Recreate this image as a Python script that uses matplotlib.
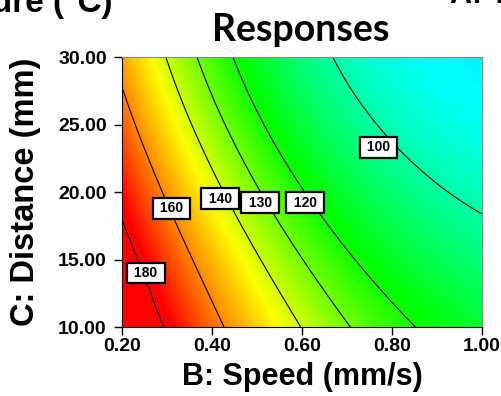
import matplotlib
matplotlib.use("Agg")
import matplotlib.pyplot as plt
import numpy as np
from matplotlib.colors import LinearSegmentedColormap
from matplotlib.ticker import FormatStrFormatter

# B: Speed (mm/s) and C: Distance (mm) grid positions
speed = [0.2, 0.3, 0.4, 0.5, 0.6, 0.7, 0.8, 0.9, 1.0]
distance = [10, 15, 20, 25, 30]

# Response, one row per distance
resp_10 = [195.8, 179.4, 163.9, 150.9, 139.1, 129.9, 123.5, 117.7, 112.5]
resp_15 = [185.3, 169.6, 154.8, 141.0, 129.7, 121.5, 115.1, 109.6, 105.0]
resp_20 = [175.0, 158.4, 142.8, 130.0, 119.3, 112.8, 106.2, 99.8, 98.2]
resp_25 = [168.0, 147.1, 133.2, 122.4, 113.0, 104.0, 97.0, 94.5, 92.0]
resp_30 = [154.9, 139.9, 126.1, 114.6, 104.5, 97.0, 94.0, 91.0, 88.0]

levels = [100, 120, 130, 140, 160, 180]
label_pos = [(0.770, 23.3), (0.607, 19.2), (0.507, 19.2), (0.418, 19.5),
             (0.310, 18.8), (0.253, 14.0)]

plt.rcParams['font.family'] = ['Liberation Sans', 'DejaVu Sans']

X, Y = np.meshgrid(speed, distance)
Z = np.array([resp_10, resp_15, resp_20, resp_25, resp_30])


def terms(x, y):
    # cubic response surface terms, distance scaled to 0..1
    v = (y - 10) / 20.0
    return np.stack([np.ones_like(x), x, v, x * x, x * v, v * v,
                     x ** 3, x * x * v, x * v * v, v ** 3], axis=-1)


# smooth surface through the read points (least squares)
coef, *_ = np.linalg.lstsq(terms(X.ravel(), Y.ravel()), Z.ravel(), rcond=None)
xs = np.linspace(speed[0], speed[-1], 241)
ys = np.linspace(distance[0], distance[-1], 241)
XF, YF = np.meshgrid(xs, ys)
ZF = terms(XF, YF) @ coef

# Design-Expert style map: blue - cyan - green - yellow - red
vmin, vmax = 60, 177
nodes = [60, 90, 118, 145, 177]
node_colors = ['#0000ff', '#00ffff', '#00ff00', '#ffff00', '#ff0000']
cmap = LinearSegmentedColormap.from_list(
    'de', [((v - vmin) / (vmax - vmin), c) for v, c in zip(nodes, node_colors)])

fig = plt.figure(figsize=(5.01, 3.96), dpi=100)
ax = fig.add_axes([0.2435, 0.1742, 0.7186, 0.6818])

ax.pcolormesh(XF, YF, ZF, shading='gouraud', cmap=cmap, vmin=vmin, vmax=vmax)
cs = ax.contour(XF, YF, ZF, levels=levels, colors='black', linewidths=0.8)

ax.set_xlim(0.2, 1.0)
ax.set_ylim(10, 30)
ax.set_xticks([0.2, 0.4, 0.6, 0.8, 1.0])
ax.set_yticks([10, 15, 20, 25, 30])
ax.xaxis.set_major_formatter(FormatStrFormatter('%.2f'))
ax.yaxis.set_major_formatter(FormatStrFormatter('%.2f'))
ax.tick_params(direction='out', length=6, width=1, labelsize=14)
ax.tick_params(axis='y', pad=5)
ax.tick_params(axis='x', pad=2)
for lbl in ax.get_xticklabels() + ax.get_yticklabels():
    lbl.set_fontweight('bold')
for side in ['top', 'right']:
    ax.spines[side].set_color('#888888')
    ax.spines[side].set_linewidth(0.8)

ax.set_xlabel('B: Speed (mm/s)', fontsize=22, fontweight='bold', labelpad=5)
ax.set_ylabel('C: Distance (mm)', fontsize=23.5, fontweight='bold', labelpad=12)

texts = ax.clabel(cs, levels=levels, manual=label_pos, inline=False,
                  fmt=' %d ', fontsize=10)
for t, pos in zip(texts, label_pos):
    t.set_rotation(0)
    t.set_position(pos)
    t.set_fontweight('bold')
    t.set_bbox(dict(boxstyle='square,pad=0.25', fc='white', ec='black', lw=1.6))

fig.text(0.6, 1 - 30 / 396, 'Responses', ha='center', va='center', fontsize=27,
         fontweight='bold', family=['Lato', 'DejaVu Sans'])
fig.text(113 / 501, 1 - 12 / 396, 'Temperature (°C)', ha='right', va='baseline',
         fontsize=24, fontweight='bold')
fig.text(450 / 501, 1 - 3 / 396, 'A: Temperature (°C)', ha='left', va='baseline',
         fontsize=22, fontweight='bold')

fig.savefig('out.png', dpi=100)
